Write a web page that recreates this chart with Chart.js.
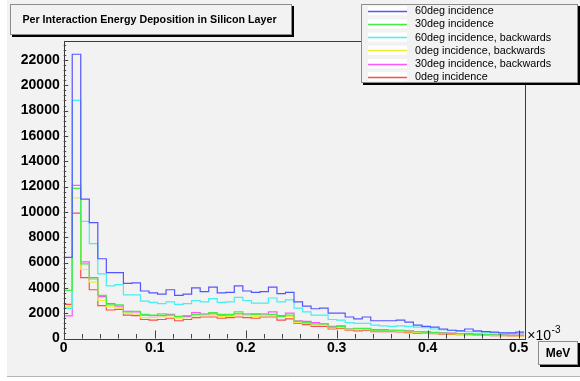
<!DOCTYPE html>
<html><head><meta charset="utf-8">
<script src="https://cdn.jsdelivr.net/npm/chart.js@4.4.1/dist/chart.umd.min.js"></script>
<style>html,body{margin:0;padding:0;background:#fff;overflow:hidden}#wrap{width:580px;height:381px;position:relative}</style>
</head><body><div id="wrap"><canvas id="c" width="580" height="381"></canvas></div>
<script>
// ---------- data ----------
const TITLE = 'Per Interaction Energy Deposition in Silicon Layer';
const X_UNIT = 'MeV';
const X_EXPONENT = '-3';
const X_MIN = 0, X_MAX = 0.5062;      // ×10^-3 MeV
const N_BINS = 54;
const Y_MIN = 0, Y_MAX = 23520;
const xTickValues = [0, 0.1, 0.2, 0.3, 0.4, 0.5];
const xTickLabels = ['0', '0.1', '0.2', '0.3', '0.4', '0.5'];
const yTickValues = [0, 2000, 4000, 6000, 8000, 10000, 12000, 14000, 16000, 18000, 20000, 22000];
const yTickLabels = ['0', '2000', '4000', '6000', '8000', '10000', '12000', '14000', '16000', '18000', '20000', '22000'];
const seriesLabels = ['60deg incidence', '30deg incidence', '60deg incidence, backwards', '0deg incidence, backwards', '30deg incidence, backwards', '0deg incidence'];

const deg60 = [6400, 22450, 11000, 9150, 6300, 5200, 5200, 4350, 4400, 3750, 3600, 3500, 3850, 3400, 3500, 4000, 3700, 4050, 3600, 3650, 4150, 3750, 3650, 3700, 4050, 3550, 3650, 2900, 2550, 2350, 2400, 2000, 2000, 1700, 1550, 1700, 1400, 1400, 1400, 1450, 1300, 1050, 950, 900, 750, 650, 600, 750, 600, 550, 500, 450, 450, 500];
const deg30 = [3800, 11850, 5900, 4700, 3400, 2650, 2650, 2100, 2150, 1900, 1850, 1950, 1850, 1750, 1800, 1900, 1950, 2050, 1900, 1900, 2100, 1950, 1900, 1950, 1900, 1750, 1850, 1350, 1250, 1150, 1150, 900, 950, 750, 800, 800, 650, 650, 650, 620, 580, 540, 500, 460, 430, 400, 380, 350, 320, 300, 280, 260, 250, 240];
const deg60back = [2380, 18800, 9250, 7500, 5100, 4150, 4250, 3450, 3450, 2950, 2850, 2750, 2900, 2700, 2750, 3000, 2900, 3150, 2850, 2900, 3250, 3000, 2800, 2800, 3200, 2900, 3050, 2400, 2100, 1850, 1850, 1500, 1450, 1250, 1200, 1200, 1050, 1000, 950, 1000, 950, 900, 850, 750, 700, 650, 600, 550, 550, 500, 450, 450, 400, 400];
const deg0back = [2500, 11100, 5450, 4450, 3000, 2500, 2400, 2000, 1950, 1650, 1650, 1700, 1700, 1600, 1650, 1800, 1800, 1850, 1750, 1750, 1850, 1800, 1750, 1800, 1800, 1700, 1750, 1250, 1200, 1050, 1050, 850, 850, 700, 700, 750, 600, 600, 600, 560, 520, 480, 450, 420, 380, 360, 330, 300, 280, 260, 250, 230, 220, 210];
const deg30back = [1780, 12100, 6050, 4800, 3300, 2750, 2550, 2150, 2100, 1850, 1800, 1800, 1900, 1700, 1750, 2050, 1850, 1950, 1800, 1850, 1950, 1850, 1950, 1850, 2100, 1800, 2000, 1400, 1350, 1250, 1150, 950, 1000, 750, 750, 750, 700, 700, 650, 650, 600, 540, 520, 480, 450, 420, 380, 380, 340, 320, 300, 280, 270, 260];
const deg0 = [2700, 9900, 4800, 3850, 2600, 2250, 2300, 1850, 1800, 1500, 1450, 1500, 1600, 1400, 1500, 1650, 1700, 1700, 1600, 1650, 1700, 1650, 1600, 1700, 1700, 1450, 1550, 1200, 1100, 950, 950, 750, 800, 650, 600, 650, 550, 550, 550, 520, 470, 430, 420, 380, 350, 330, 300, 300, 270, 250, 230, 220, 200, 200];

const seriesValues = [deg60, deg30, deg60back, deg0back, deg30back, deg0];
const seriesColors = ['#5555ff', '#44ee44', '#44f0f0', '#eeee33', '#ff55ff', '#ff4c4c'];

// ---------- build ----------
const binW = (X_MAX - X_MIN) / N_BINS;
function toSteps(vals) {
  const pts = vals.map((v, i) => ({ x: X_MIN + i * binW, y: v }));
  pts.push({ x: X_MIN + vals.length * binW, y: vals[vals.length - 1] });
  return pts;
}
const FONT = "'Liberation Sans', Arial, Helvetica, sans-serif";
const BG = '#f2f2f2';

function shadowBox(ctx, x, y, w, h, off) {
  ctx.fillStyle = '#000';
  ctx.fillRect(x + off, y + off, w, h);
  ctx.fillStyle = BG;
  ctx.fillRect(x, y, w, h);
  ctx.strokeStyle = '#8c8c8c';
  ctx.lineWidth = 1;
  ctx.strokeRect(x + 0.5, y + 0.5, w - 1, h - 1);
}

const rootDecor = {
  id: 'rootDecor',
  beforeDraw(chart) {
    const ctx = chart.ctx;
    ctx.save();
    ctx.fillStyle = '#ffffff';
    ctx.fillRect(0, 0, chart.width, chart.height);
    ctx.fillStyle = BG;
    ctx.fillRect(7, 0, chart.width - 7, 376);
    ctx.strokeStyle = '#b4b4b4';
    ctx.beginPath(); ctx.moveTo(7, 376.5); ctx.lineTo(chart.width, 376.5); ctx.stroke();
    ctx.restore();
  },
  afterDraw(chart) {
    const ctx = chart.ctx;
    const ca = chart.chartArea;
    const xs = chart.scales.x, ys = chart.scales.y;
    ctx.save();
    // frame
    ctx.strokeStyle = '#3a3a3a';
    ctx.lineWidth = 1;
    ctx.strokeRect(Math.round(ca.left) + 0.5, Math.round(ca.top) + 0.5, Math.round(ca.right - ca.left), Math.round(ca.bottom - ca.top));
    // ticks x
    ctx.strokeStyle = '#444';
    ctx.beginPath();
    for (let k = 0; ; k++) {
      const v = X_MIN + k * 0.02;
      if (v > X_MAX + 1e-9) break;
      const px = Math.round(xs.getPixelForValue(v)) + 0.5;
      const len = (k % 5 === 0) ? 8 : 4.5;
      ctx.moveTo(px, ca.bottom); ctx.lineTo(px, ca.bottom - len);
    }
    // ticks y
    for (let k = 0; ; k++) {
      const v = Y_MIN + k * 400;
      if (v > Y_MAX) break;
      const py = Math.round(ys.getPixelForValue(v)) + 0.5;
      const len = (k % 5 === 0) ? 4.5 : 2.5;
      ctx.moveTo(ca.left, py); ctx.lineTo(ca.left + len, py);
    }
    ctx.stroke();

    // exponent label ×10^-3
    ctx.fillStyle = '#000';
    ctx.textBaseline = 'alphabetic';
    ctx.textAlign = 'left';
    ctx.font = '14px ' + FONT;
    const ex = ca.right + 3, ey = ca.bottom + 1;
    ctx.fillText('\u00d710', ex, ey);
    const w10 = ctx.measureText('\u00d710').width;
    ctx.font = '10px ' + FONT;
    ctx.fillText(X_EXPONENT, ex + w10 + 0.5, ey - 7);

    // unit box
    shadowBox(ctx, 538, 341, 40, 24, 2);
    ctx.fillStyle = '#000';
    ctx.font = 'bold 12px ' + FONT;
    ctx.textAlign = 'center';
    ctx.textBaseline = 'middle';
    ctx.fillText(X_UNIT, 558, 353.5);

    // title box
    shadowBox(ctx, 10, 4, 282, 31, 2);
    ctx.font = 'bold 10.7px ' + FONT;
    ctx.fillStyle = '#000';
    ctx.fillText(TITLE, 149.5, 20.5);

    // legend box
    shadowBox(ctx, 361, 4, 217, 79, 2);
    ctx.textAlign = 'left';
    ctx.font = '10.8px ' + FONT;
    chart.data.datasets.forEach((ds, i) => {
      const cy = 10.7 + i * 13.2;
      ctx.fillStyle = '#ffffff';
      ctx.fillRect(368, cy - 4.5, 39, 9);
      ctx.strokeStyle = seriesColors[i];
      ctx.lineWidth = 1.3;
      ctx.beginPath(); ctx.moveTo(368, Math.round(cy) + 0.5); ctx.lineTo(407, Math.round(cy) + 0.5); ctx.stroke();
      ctx.fillStyle = '#000';
      ctx.textBaseline = 'middle';
      ctx.fillText(ds.label, 415, cy + 0.5);
    });
    ctx.restore();
  }
};

const datasets = seriesValues.map((vals, i) => ({
  label: seriesLabels[i],
  data: toSteps(vals),
  borderColor: seriesColors[i],
  backgroundColor: seriesColors[i],
  borderWidth: 1.2,
  stepped: 'before',
  pointRadius: 0,
  fill: false,
  tension: 0
}));

new Chart(document.getElementById('c'), {
  type: 'line',
  data: { datasets },
  plugins: [rootDecor],
  options: {
    responsive: false,
    animation: false,
    devicePixelRatio: 1,
    layout: { padding: { left: 0, right: 55.7, top: 40.7, bottom: 0 } },
    plugins: { legend: { display: false }, title: { display: false }, tooltip: { enabled: false } },
    scales: {
      x: {
        type: 'linear', min: X_MIN, max: X_MAX,
        afterBuildTicks: s => { s.ticks = xTickValues.map(v => ({ value: v })); },
        afterFit: s => { s.height = 42.5; },
        grid: { display: false, drawTicks: false }, border: { display: false },
        ticks: {
          autoSkip: false, maxRotation: 0, includeBounds: false, padding: 1,
          color: '#000', font: { family: FONT, size: 14, weight: 'bold' },
          callback: (v, idx) => xTickLabels[idx]
        }
      },
      y: {
        type: 'linear', min: Y_MIN, max: Y_MAX,
        afterBuildTicks: s => { s.ticks = yTickValues.map(v => ({ value: v })); },
        afterFit: s => { s.width = 63.7; },
        grid: { display: false, drawTicks: false }, border: { display: false },
        ticks: {
          autoSkip: false, padding: 4,
          color: '#000', font: { family: FONT, size: 14, weight: 'bold' },
          callback: (v, idx) => yTickLabels[idx]
        }
      }
    }
  }
});
</script>
</body></html>
